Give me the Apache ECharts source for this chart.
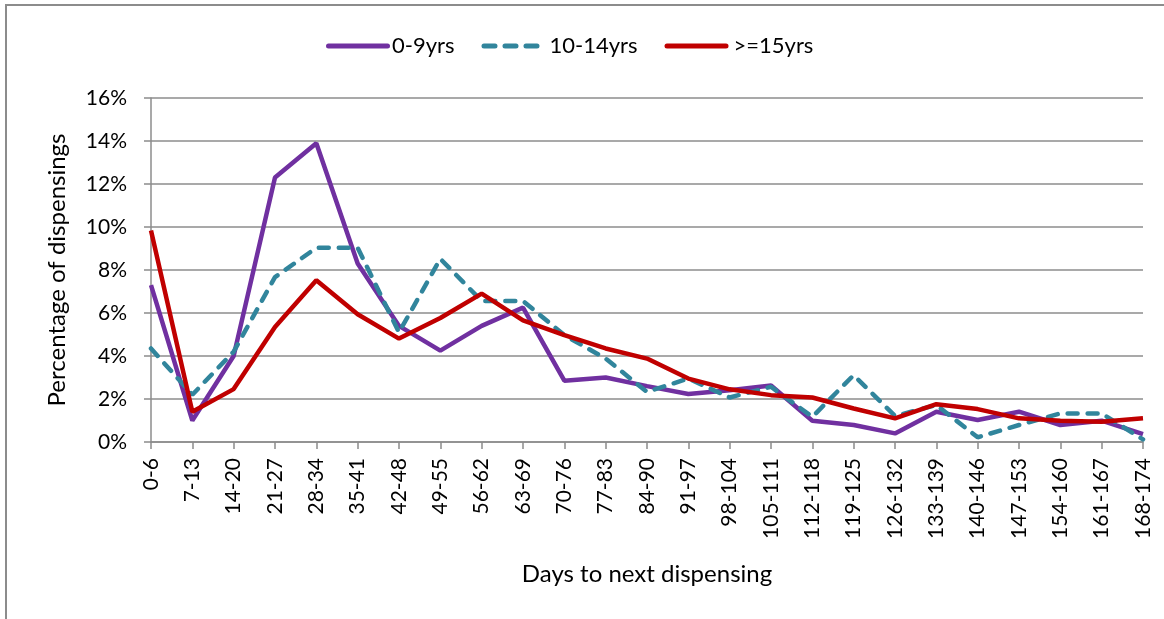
<!DOCTYPE html>
<html>
<head>
<meta charset="utf-8">
<script src="https://cdn.jsdelivr.net/npm/echarts@6/dist/echarts.min.js"></script>
<style>
  html, body { margin: 0; padding: 0; background: #fff; }
  #frame { position: absolute; left: 5px; top: 4px; width: 1180px; height: 640px; border: 2px solid #8c8c8c; box-sizing: border-box; }
  #chart { position: absolute; left: 0; top: 0; width: 1164px; height: 619px; }
</style>
</head>
<body>
<div id="frame"></div>
<div id="chart"></div>
<script>
  const categories = ['0-6', '7-13', '14-20', '21-27', '28-34', '35-41', '42-48', '49-55', '56-62', '63-69',
    '70-76', '77-83', '84-90', '91-97', '98-104', '105-111', '112-118', '119-125', '126-132', '133-139',
    '140-146', '147-153', '154-160', '161-167', '168-174'];
  const age0to9 = [7.3, 1.0, 4.0, 12.3, 13.9, 8.3, 5.4, 4.25, 5.4, 6.25,
    2.85, 3.0, 2.6, 2.23, 2.41, 2.63, 0.99, 0.79, 0.4, 1.41,
    1.02, 1.41, 0.79, 0.99, 0.37];
  const age10to14 = [4.35, 2.2, 4.2, 7.67, 9.03, 9.03, 5.1, 8.52, 6.56, 6.56,
    4.97, 3.88, 2.33, 2.95, 2.07, 2.57, 1.17, 3.11, 1.21, 1.72,
    0.22, 0.79, 1.33, 1.33, 0.12];
  const age15plus = [9.84, 1.41, 2.46, 5.35, 7.52, 5.94, 4.81, 5.77, 6.9, 5.66,
    4.97, 4.35, 3.88, 2.95, 2.45, 2.18, 2.07, 1.56, 1.1, 1.76,
    1.53, 1.1, 0.99, 0.94, 1.1];

  // legend icons: a rounded bar, and three rounded dashes
  const solidIcon = 'path://M2.5,0 H61.5 A2.5,2.5 0 0 1 61.5,5 H2.5 A2.5,2.5 0 0 1 2.5,0 Z';
  const dashIcon = 'path://M2.5,0 H13.5 A2.5,2.5 0 0 1 13.5,5 H2.5 A2.5,2.5 0 0 1 2.5,0 Z ' +
    'M23.5,0 H34.5 A2.5,2.5 0 0 1 34.5,5 H23.5 A2.5,2.5 0 0 1 23.5,0 Z ' +
    'M44.5,0 H55.5 A2.5,2.5 0 0 1 55.5,5 H44.5 A2.5,2.5 0 0 1 44.5,0 Z';

  const font = 'Lato, "Liberation Sans", sans-serif';
  let myChart = echarts.init(document.getElementById('chart'));
  myChart.setOption({
    animation: false,
    textStyle: { fontFamily: font },
    legend: {
      top: 30,
      left: 321,
      itemWidth: 64,
      itemHeight: 5,
      itemGap: 27,
      textStyle: { fontSize: 22, color: '#000', fontFamily: font },
      data: [
        { name: '0-9yrs', icon: solidIcon, textStyle: { padding: [0, 0, 0, -3] } },
        { name: '10-14yrs', icon: dashIcon, textStyle: { padding: [0, 0, 0, 2] } },
        { name: '>=15yrs', icon: solidIcon, textStyle: { padding: [0, 0, 0, 0] } }
      ]
    },
    grid: {
      left: 151,
      right: 21,
      top: 98,
      bottom: 177
    },
    xAxis: {
      type: 'category',
      data: categories,
      boundaryGap: false,
      name: 'Days to next dispensing',
      nameLocation: 'middle',
      nameGap: 120,
      nameTextStyle: { fontSize: 24, color: '#000' },
      axisLine: { lineStyle: { color: '#8c8c8c', width: 1.5 } },
      axisTick: { show: true, alignWithLabel: true, length: 7, lineStyle: { color: '#8c8c8c', width: 1.5 } },
      axisLabel: { rotate: 90, fontSize: 21, color: '#000', margin: 16, interval: 0 }
    },
    yAxis: {
      type: 'value',
      min: 0,
      max: 16,
      interval: 2,
      name: 'Percentage of dispensings',
      nameLocation: 'middle',
      nameGap: 82,
      nameTextStyle: { fontSize: 24, color: '#000' },
      axisLine: { show: true, lineStyle: { color: '#8c8c8c', width: 1.5 } },
      axisTick: { show: true, length: 7, lineStyle: { color: '#8c8c8c', width: 1.5 } },
      axisLabel: { fontSize: 21, color: '#000', margin: 24, formatter: '{value}%' },
      splitLine: { lineStyle: { color: '#8c8c8c', width: 1.5 } }
    },
    series: [{
      name: '0-9yrs',
      type: 'line',
      data: age0to9,
      symbol: 'none',
      itemStyle: { color: '#7030A0' },
      lineStyle: { color: '#7030A0', width: 4.5 }
    }, {
      name: '10-14yrs',
      type: 'line',
      data: age10to14,
      symbol: 'none',
      itemStyle: { color: '#31859C' },
      lineStyle: { color: '#31859C', width: 4.5, type: [10, 10], cap: 'round' }
    }, {
      name: '>=15yrs',
      type: 'line',
      data: age15plus,
      symbol: 'none',
      itemStyle: { color: '#C00000' },
      lineStyle: { color: '#C00000', width: 4.5 }
    }]
  });
</script>
</body>
</html>
